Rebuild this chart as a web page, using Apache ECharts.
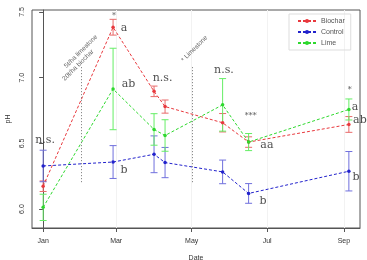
<!DOCTYPE html>
<html>
<head>
<meta charset="utf-8">
<script src="https://cdn.jsdelivr.net/npm/echarts@6/dist/echarts.min.js"></script>
<style>
  html, body { margin: 0; padding: 0; background: #fff; }
  #chart { width: 367px; height: 260px; }
</style>
</head>
<body>
<div id="chart"></div>
<script>
// sampling dates, as days after Jan 1
const sampleDays = [0, 56.5, 89.6, 98.5, 145, 166, 247];

const biocharMean = [6.174, 7.384, 6.896, 6.78, 6.657, 6.51, 6.644];
const biocharErr  = [0.04, 0.06, 0.04, 0.05, 0.07, 0.04, 0.06];
const controlMean = [6.328, 6.358, 6.417, 6.354, 6.283, 6.119, 6.288];
const controlErr  = [0.12, 0.125, 0.14, 0.115, 0.09, 0.075, 0.15];
const limeMean    = [6.013, 6.914, 6.606, 6.56, 6.793, 6.51, 6.758];
const limeErr     = [0.1, 0.31, 0.12, 0.12, 0.2, 0.065, 0.08];

// x tick positions and labels
const monthTicks  = [0, 59, 120, 181, 243];
const monthLabels = ['Jan', 'Mar', 'May', 'Jul', 'Sep'];
const phTicks = [6.0, 6.5, 7.0, 7.5];

// application events (dotted lines)
const eventDays = [30.7, 120.8];
const eventTop = 7.08;
const eventBottom = 6.2;

// significance letters: [day, pH, text]
const letters = [
    [1.6, 6.523, 'n.s.'],
    [57.3, 7.47, '*'],
    [65.4, 7.379, 'a'],
    [69, 6.947, 'ab'],
    [65.4, 6.295, 'b'],
    [96.5, 7.0, 'n.s.'],
    [146.1, 7.06, 'n.s.'],
    [167.7, 6.71, '***'],
    [180.8, 6.485, 'aa'],
    [177.6, 6.06, 'b'],
    [247.8, 6.91, '*'],
    [251.9, 6.773, 'a'],
    [255.9, 6.674, 'ab'],
    [252.7, 6.242, 'b']
];

// rotated notes: [day, pH, text]
const notes = [
    [30.5, 7.2, '5t/ha limestone'],
    [28.3, 7.095, '20t/ha biochar'],
    [122.3, 7.22, '* Limestone']
];

const COLORS = {
    biochar: '#e8383d',
    biocharBar: '#e86a6a',
    control: '#2222cc',
    controlBar: '#7070dd',
    lime: '#2ed82e',
    limeBar: '#66ee66'
};

const pairs = (ys) => sampleDays.map((d, i) => [d, ys[i]]);
const bars = (ys, es) => sampleDays.map((d, i) => [d, ys[i] - es[i], ys[i] + es[i]]);

const errorBarItem = (color) => (params, api) => {
    const x = api.value(0);
    const lo = api.coord([x, api.value(1)]);
    const hi = api.coord([x, api.value(2)]);
    const cap = 3.5;
    const style = { stroke: color, lineWidth: 1, fill: null };
    return {
        type: 'group',
        children: [
            { type: 'line', shape: { x1: lo[0], y1: lo[1], x2: hi[0], y2: hi[1] }, style: style },
            { type: 'line', shape: { x1: lo[0] - cap, y1: lo[1], x2: lo[0] + cap, y2: lo[1] }, style: style },
            { type: 'line', shape: { x1: hi[0] - cap, y1: hi[1], x2: hi[0] + cap, y2: hi[1] }, style: style }
        ]
    };
};

const lineSeries = (name, ys, color) => ({
    name: name,
    type: 'line',
    data: pairs(ys),
    symbol: 'circle',
    symbolSize: 3.5,
    z: 3,
    lineStyle: { color: color, width: 1, type: [3, 2] },
    itemStyle: { color: color }
});

const errSeries = (name, ys, es, color) => ({
    name: name,
    type: 'custom',
    data: bars(ys, es),
    encode: { x: 0, y: [1, 2] },
    renderItem: errorBarItem(color),
    z: 2
});

// asterisks are set smaller than the letters
const letterData = letters.map((l) => ({
    value: l,
    label: l[2].indexOf('*') === 0 ? { fontSize: 8 } : undefined
}));

const chart = echarts.init(document.getElementById('chart'));

chart.setOption({
    animation: false,
    grid: {
        left: 32, right: 7, top: 10, bottom: 32,
        outerBoundsMode: 'none',
        containLabel: false,
        show: true, borderColor: '#555', borderWidth: 1
    },
    legend: {
        data: ['Biochar', 'Control', 'Lime'],
        orient: 'vertical',
        left: 289,
        top: 14,
        padding: [3, 6, 3, 8],
        borderColor: '#ddd',
        borderWidth: 1,
        itemWidth: 18,
        itemHeight: 5,
        itemGap: 3,
        textStyle: { fontFamily: 'Liberation Sans', fontSize: 7, color: '#555', lineHeight: 8 }
    },
    xAxis: {
        type: 'value',
        min: -9,
        max: 256,
        name: 'Date',
        nameLocation: 'middle',
        nameGap: 27,
        nameTextStyle: { fontFamily: 'Liberation Sans', fontSize: 7, color: '#333' },
        axisLine: { show: true, lineStyle: { color: '#555' } },
        axisTick: { show: true, customValues: monthTicks, length: 4, lineStyle: { color: '#555' } },
        axisLabel: {
            customValues: monthTicks,
            formatter: (v) => monthLabels[monthTicks.indexOf(v)] || '',
            fontFamily: 'Liberation Sans', fontSize: 7, color: '#333', margin: 10
        },
        splitLine: { show: true, lineStyle: { color: '#f2f2f2' } }
    },
    yAxis: {
        type: 'value',
        min: 5.856,
        max: 7.515,
        name: 'pH',
        nameLocation: 'middle',
        nameGap: 16,
        nameRotate: 90,
        nameTextStyle: { fontFamily: 'Liberation Sans', fontSize: 7, color: '#333' },
        axisLine: { show: true, lineStyle: { color: '#555' } },
        axisTick: { show: true, customValues: phTicks, length: 4, lineStyle: { color: '#555' } },
        axisLabel: {
            customValues: phTicks,
            formatter: (v) => v.toFixed(1),
            rotate: 90,
            fontFamily: 'Liberation Sans', fontSize: 7, color: '#333', margin: 6
        },
        splitLine: { show: false }
    },
    series: [
        lineSeries('Biochar', biocharMean, COLORS.biochar),
        lineSeries('Control', controlMean, COLORS.control),
        lineSeries('Lime', limeMean, COLORS.lime),
        errSeries('Biochar-err', biocharMean, biocharErr, COLORS.biocharBar),
        errSeries('Control-err', controlMean, controlErr, COLORS.controlBar),
        errSeries('Lime-err', limeMean, limeErr, COLORS.limeBar),
        {
            name: 'events',
            type: 'line',
            data: [],
            markLine: {
                silent: true,
                symbol: 'none',
                label: { show: false },
                lineStyle: { color: '#777', width: 1, type: [1, 2] },
                data: eventDays.map((d) => [{ coord: [d, eventTop] }, { coord: [d, eventBottom] }])
            }
        },
        {
            name: 'letters',
            type: 'scatter',
            data: letterData,
            symbolSize: 0,
            clip: false,
            silent: true,
            z: 5,
            label: {
                show: true,
                position: 'inside',
                formatter: (p) => p.value[2],
                fontFamily: 'DejaVu Serif',
                fontSize: 11,
                color: '#222'
            }
        },
        {
            name: 'notes',
            type: 'scatter',
            data: notes,
            symbolSize: 0,
            clip: false,
            silent: true,
            z: 5,
            label: {
                show: true,
                position: 'inside',
                rotate: 45,
                formatter: (p) => p.value[2],
                fontFamily: 'Liberation Sans',
                fontSize: 6.5,
                color: '#333'
            }
        }
    ]
});
</script>
</body>
</html>
